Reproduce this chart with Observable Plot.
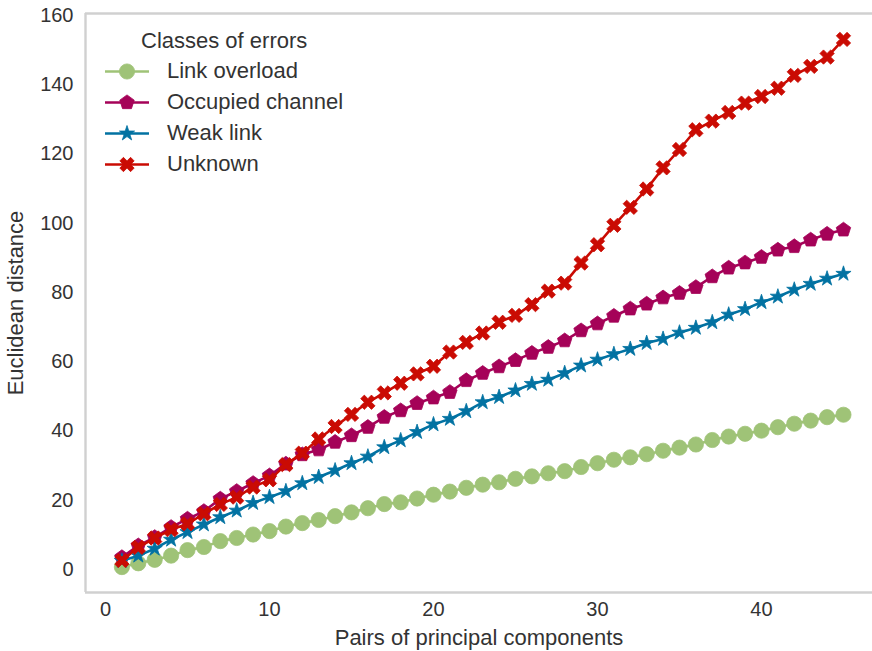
<!DOCTYPE html>
<html>
<head>
<meta charset="utf-8">
<script src="https://cdn.jsdelivr.net/npm/d3@7"></script>
<script src="https://cdn.jsdelivr.net/npm/@observablehq/plot@0.6"></script>
<style>
  html, body { margin: 0; padding: 0; background: #fff; }
  #chart { position: relative; width: 872px; height: 651px; overflow: hidden;
           font-family: "Liberation Sans", Arial, sans-serif; color: #333; }
  #chart svg [aria-label="x-axis label"] text,
  #chart svg [aria-label="y-axis label"] text { font-size: 22px; }
  #legend { position: absolute; left: 105px; top: 24.5px; font-size: 22px; color: #333; }
  #legend .title { height: 31px; line-height: 31px; margin-left: 36px; }
  #legend .row { height: 31px; display: flex; align-items: center; }
  #legend .row svg { display: block; margin-right: 18px; }
</style>
</head>
<body>
<div id="chart"></div>
<script>
// Pairs of principal components (x axis)
const pairs = [1, 2, 3, 4, 5, 6, 7, 8, 9, 10, 11, 12, 13, 14, 15, 16, 17, 18, 19, 20,
  21, 22, 23, 24, 25, 26, 27, 28, 29, 30, 31, 32, 33, 34, 35, 36, 37, 38, 39, 40,
  41, 42, 43, 44, 45];

// Euclidean distance for each class of errors
const linkOverload = [0.7, 1.8, 2.8, 4.0, 5.6, 6.5, 8.2, 9.1, 10.1, 11.1,
  12.4, 13.4, 14.3, 15.4, 16.5, 17.7, 18.9, 19.4, 20.5, 21.6,
  22.5, 23.6, 24.5, 25.2, 26.2, 26.9, 27.8, 28.4, 29.6, 30.7,
  31.7, 32.4, 33.3, 34.3, 35.2, 36.1, 37.4, 38.4, 39.2, 40.1,
  41.1, 42.1, 43.0, 44.0, 44.7];
const occupiedChannel = [3.5, 6.9, 9.3, 12.2, 14.6, 16.8, 20.4, 22.6, 24.9, 27.1,
  30.5, 33.2, 34.6, 36.8, 38.7, 41.1, 44.0, 45.9, 48.0, 49.6,
  51.2, 54.6, 56.7, 58.6, 60.4, 62.5, 64.2, 66.1, 69.0, 71.0,
  73.2, 75.3, 76.7, 78.5, 79.8, 81.5, 84.6, 87.1, 88.6, 90.2,
  92.3, 93.3, 95.2, 96.9, 98.1];
const weakLink = [2.5, 4.0, 6.0, 8.6, 10.8, 13.0, 15.1, 17.0, 19.2, 20.9,
  22.6, 24.9, 26.7, 28.6, 30.7, 32.6, 35.3, 37.3, 39.7, 41.9,
  43.5, 45.7, 48.3, 49.8, 51.7, 53.6, 54.8, 56.7, 58.9, 60.6,
  62.2, 63.7, 65.4, 66.6, 68.4, 69.8, 71.4, 73.6, 75.2, 77.2,
  78.8, 80.8, 82.5, 84.0, 85.4];
const unknown = [2.6, 6.4, 9.1, 11.5, 13.2, 16.1, 18.8, 20.9, 23.8, 25.9,
  30.3, 33.6, 37.7, 41.3, 44.8, 48.3, 51.0, 53.8, 56.5, 58.7,
  62.8, 65.6, 68.3, 71.4, 73.4, 76.5, 80.4, 82.7, 88.5, 93.8,
  99.4, 104.6, 109.9, 116.0, 121.3, 127.0, 129.5, 132.0, 134.7, 136.6,
  139.0, 142.7, 145.3, 148.0, 153.1];

const classNames = ["Link overload", "Occupied channel", "Weak link", "Unknown"];
const classColors = ["#9fc377", "#a50258", "#0272a2", "#ca0b03"];
const xTicks = [0, 10, 20, 30, 40];
const yTicks = [0, 20, 40, 60, 80, 100, 120, 140, 160];

// Axis extents (data range padded the way the figure does)
const xDomain = [-1.22, 46.77];
const yDomain = [-6.64, 160.58];

// Custom marker shapes; size is the area Plot passes (π r²), so R = r
const radiusOf = (size) => Math.sqrt(size / Math.PI);
const polygon = (context, pts) => {
  pts.forEach(([x, y], i) => (i ? context.lineTo(x, y) : context.moveTo(x, y)));
  context.closePath();
};
const pentagon = {
  draw(context, size) {
    const R = radiusOf(size);
    polygon(context, d3.range(5).map((k) => {
      const a = -Math.PI / 2 + (k * 2 * Math.PI) / 5;
      return [R * Math.cos(a), R * Math.sin(a)];
    }));
  }
};
const star = {
  draw(context, size) {
    const R = radiusOf(size) * 1.05;
    polygon(context, d3.range(10).map((k) => {
      const a = -Math.PI / 2 + (k * Math.PI) / 5;
      const r = k % 2 ? R * 0.381966 : R;
      return [r * Math.cos(a), r * Math.sin(a)];
    }));
  }
};
const filledX = {
  draw(context, size) {
    const u = radiusOf(size) / 3;
    const plus = [[-1, -3], [1, -3], [1, -1], [3, -1], [3, 1], [1, 1], [1, 3], [-1, 3],
      [-1, 1], [-3, 1], [-3, -1], [-1, -1]];
    const c = Math.SQRT1_2;
    polygon(context, plus.map(([x, y]) => [u * (x * c - y * c), u * (x * c + y * c)]));
  }
};
const classSymbols = ["circle", pentagon, star, filledX];
const markerR = 7.6;

const seriesValues = [linkOverload, occupiedChannel, weakLink, unknown];
const series = classNames.map((name, i) => ({
  name,
  color: classColors[i],
  symbol: classSymbols[i],
  rows: pairs.map((p, j) => ({pair: p, distance: seriesValues[i][j], cls: name}))
}));

const marks = [
  Plot.ruleX([xDomain[0]], {stroke: "#d0d0d0", strokeWidth: 2.4}),
  Plot.ruleY([yDomain[0], yDomain[1]], {stroke: "#d0d0d0", strokeWidth: 2.4}),
  Plot.axisX({
    ticks: xTicks, tickSize: 0, tickPadding: 9, fontSize: 20,
    label: "Pairs of principal components", labelAnchor: "center", labelArrow: "none",
    labelOffset: 52
  }),
  Plot.axisY({
    ticks: yTicks, tickSize: 0, tickPadding: 12, fontSize: 20,
    label: "Euclidean distance", labelAnchor: "center", labelArrow: "none",
    labelOffset: 78
  })
];
for (const s of series) {
  marks.push(Plot.line(s.rows, {x: "pair", y: "distance", stroke: s.color, strokeWidth: 2.6}));
  marks.push(Plot.dot(s.rows, {
    x: "pair", y: "distance", fill: s.color, stroke: s.color, strokeWidth: 0.8,
    symbol: () => s.symbol, r: markerR
  }));
}

const chart = Plot.plot({
  width: 872,
  height: 651,
  marginLeft: 85,
  marginRight: 0,
  marginTop: 13,
  marginBottom: 59,
  style: {
    fontFamily: "'Liberation Sans', Arial, sans-serif",
    color: "#333",
    background: "#fff",
    overflow: "hidden"
  },
  x: {domain: xDomain},
  y: {domain: yDomain},
  symbol: {type: "identity"},
  marks
});

const host = document.getElementById("chart");
host.appendChild(chart);

// Legend: line with its marker, then the class name
const legend = d3.select(host).append("div").attr("id", "legend");
legend.append("div").attr("class", "title").text("Classes of errors");
for (const s of series) {
  const row = legend.append("div").attr("class", "row");
  const sw = row.append("svg").attr("width", 44).attr("height", 31);
  sw.append("line").attr("x1", 0).attr("x2", 44).attr("y1", 15.5).attr("y2", 15.5)
    .attr("stroke", s.color).attr("stroke-width", 2.6);
  const symType = s.symbol === "circle" ? d3.symbolCircle : s.symbol;
  sw.append("path")
    .attr("transform", "translate(22,15.5)")
    .attr("d", d3.symbol().type(symType).size(Math.PI * markerR * markerR)())
    .attr("fill", s.color).attr("stroke", s.color).attr("stroke-width", 0.8);
  row.append("span").text(s.name);
}
</script>
</body>
</html>
